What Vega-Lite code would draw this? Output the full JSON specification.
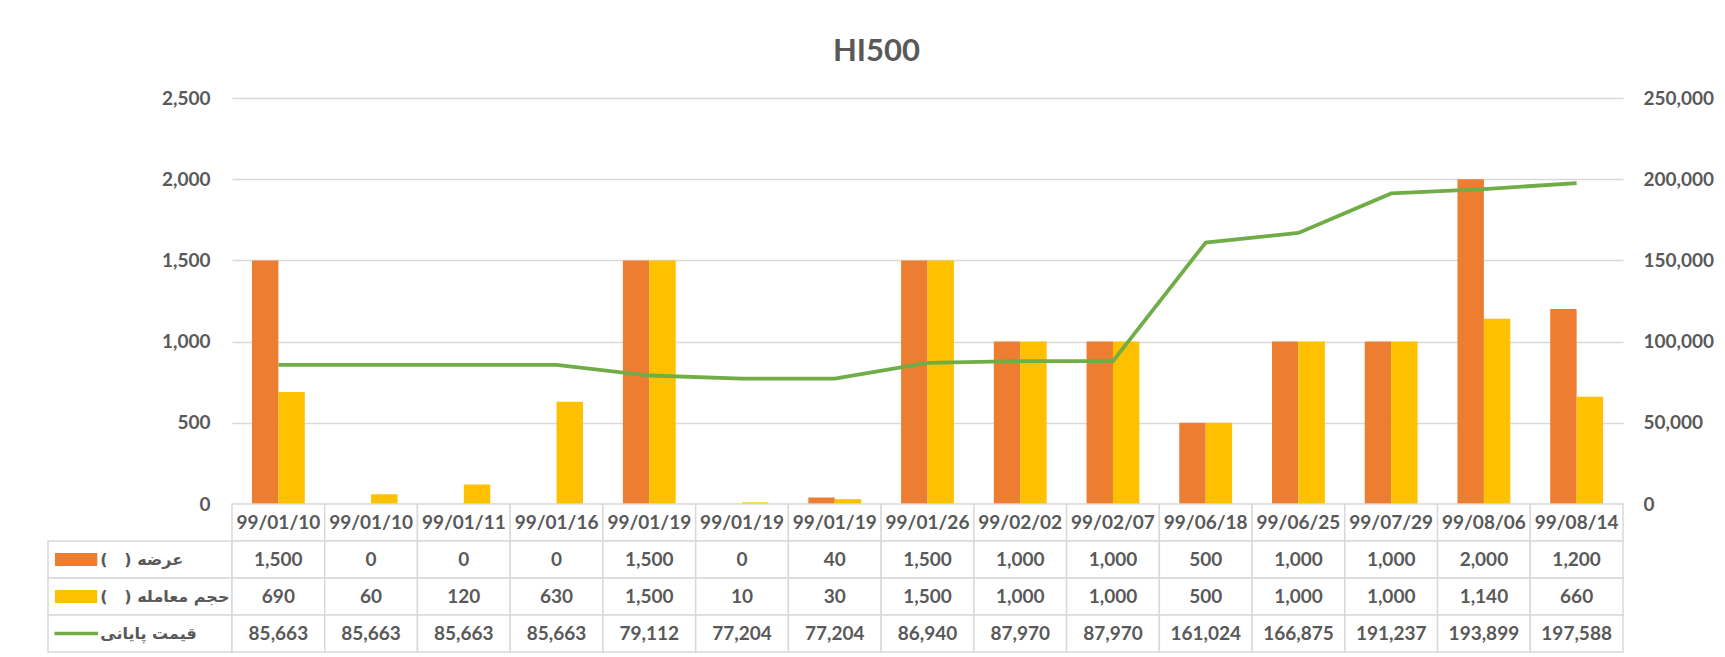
{
  "$schema": "https://vega.github.io/schema/vega-lite/v6.json",
  "background": "white",
  "padding": {"left": 47, "top": 36, "right": 14, "bottom": 4},
  "config": {
    "view": {"stroke": null},
    "font": "Lato",
    "axis": {"labelFont": "Lato", "labelFontWeight": "bold", "labelFontSize": 19, "labelColor": "#595959", "domain": false, "ticks": false, "title": null, "gridColor": "#d9d9d9", "gridWidth": 1.5}
  },
  "datasets": {
    "d": [
      {"i": 1, "date": "99/01/10", "offer": 1500, "volume": 690, "price": 85663},
      {"i": 2, "date": "99/01/10", "offer": 0, "volume": 60, "price": 85663},
      {"i": 3, "date": "99/01/11", "offer": 0, "volume": 120, "price": 85663},
      {"i": 4, "date": "99/01/16", "offer": 0, "volume": 630, "price": 85663},
      {"i": 5, "date": "99/01/19", "offer": 1500, "volume": 1500, "price": 79112},
      {"i": 6, "date": "99/01/19", "offer": 0, "volume": 10, "price": 77204},
      {"i": 7, "date": "99/01/19", "offer": 40, "volume": 30, "price": 77204},
      {"i": 8, "date": "99/01/26", "offer": 1500, "volume": 1500, "price": 86940},
      {"i": 9, "date": "99/02/02", "offer": 1000, "volume": 1000, "price": 87970},
      {"i": 10, "date": "99/02/07", "offer": 1000, "volume": 1000, "price": 87970},
      {"i": 11, "date": "99/06/18", "offer": 500, "volume": 500, "price": 161024},
      {"i": 12, "date": "99/06/25", "offer": 1000, "volume": 1000, "price": 166875},
      {"i": 13, "date": "99/07/29", "offer": 1000, "volume": 1000, "price": 191237},
      {"i": 14, "date": "99/08/06", "offer": 2000, "volume": 1140, "price": 193899},
      {"i": 15, "date": "99/08/14", "offer": 1200, "volume": 660, "price": 197588}
    ],
    "leg": [
      {"row": "offer", "name": "عرضه (\u00a0\u00a0\u00a0)‏"},
      {"row": "volume", "name": "حجم معامله (\u00a0\u00a0\u00a0)‏"},
      {"row": "price", "name": "قیمت پایانی"}
    ]
  },
  "columns": 2,
  "spacing": 0,
  "bounds": "flush",
  "align": "each",
  "concat": [
    {
      "width": 184, "height": 406,
      "data": {"values": [{}]},
      "mark": {"type": "text", "text": ""},
      "encoding": {}
    },
    {
      "width": 1391, "height": 406,
      "title": {"text": "HI500", "fontSize": 31, "font": "Lato", "fontWeight": "bold", "color": "#595959", "baseline": "alphabetic", "offset": -3, "dx": -51},
      "data": {"name": "d"},
      "layer": [
        {
          "transform": [{"fold": ["offer", "volume"], "as": ["series", "value"]}],
          "mark": {"type": "bar"},
          "encoding": {
            "x": {"field": "i", "type": "ordinal", "axis": null, "scale": {"paddingInner": 0.43, "paddingOuter": 0.215}},
            "xOffset": {"field": "series", "type": "nominal", "scale": {"domain": ["offer", "volume"], "paddingInner": 0, "paddingOuter": 0}},
            "y": {"field": "value", "type": "quantitative", "scale": {"domain": [0, 2500]}, "axis": {"values": [0, 500, 1000, 1500, 2000, 2500], "format": ",.0f", "labelPadding": 22}},
            "color": {"field": "series", "type": "nominal", "scale": {"domain": ["offer", "volume"], "range": ["#ED7D31", "#FFC000"]}, "legend": null}
          }
        },
        {
          "mark": {"type": "line", "color": "#70AD47", "strokeWidth": 3.8},
          "encoding": {
            "x": {"field": "i", "type": "ordinal", "axis": null},
            "y": {"field": "price", "type": "quantitative", "scale": {"domain": [0, 250000]}, "axis": {"orient": "right", "values": [0, 50000, 100000, 150000, 200000, 250000], "format": ",.0f", "grid": false, "labelPadding": 20}}
          }
        }
      ],
      "resolve": {"scale": {"y": "independent"}}
    },
    {
      "width": 184, "height": 148,
      "data": {"name": "leg"},
      "layer": [
        {
          "mark": {"type": "rect", "fill": "white", "stroke": "#d9d9d9", "strokeWidth": 1.5},
          "encoding": {
            "y": {"field": "row", "type": "nominal", "axis": null, "scale": {"domain": ["date", "offer", "volume", "price"], "paddingInner": 0, "paddingOuter": 0}},
            "x": {"datum": 0, "type": "quantitative", "axis": null, "scale": {"domain": [0, 1]}},
            "x2": {"datum": 1}
          }
        },
        {
          "transform": [{"filter": "datum.row === 'offer'"}],
          "mark": {"type": "rule", "color": "#ED7D31", "strokeWidth": 13},
          "encoding": {
            "y": {"field": "row", "type": "nominal"},
            "x": {"datum": 0.038, "type": "quantitative"},
            "x2": {"datum": 0.268}
          }
        },
        {
          "transform": [{"filter": "datum.row === 'volume'"}],
          "mark": {"type": "rule", "color": "#FFC000", "strokeWidth": 13},
          "encoding": {
            "y": {"field": "row", "type": "nominal"},
            "x": {"datum": 0.038, "type": "quantitative"},
            "x2": {"datum": 0.268}
          }
        },
        {
          "transform": [{"filter": "datum.row === 'price'"}],
          "mark": {"type": "rule", "color": "#70AD47", "strokeWidth": 3.5},
          "encoding": {
            "y": {"field": "row", "type": "nominal"},
            "x": {"datum": 0.035, "type": "quantitative"},
            "x2": {"datum": 0.272}
          }
        },
        {
          "mark": {"type": "text", "align": "left", "baseline": "middle", "font": "DejaVu Sans", "fontWeight": "bold", "fontSize": 16, "color": "#595959"},
          "encoding": {
            "y": {"field": "row", "type": "nominal"},
            "x": {"datum": 0.284, "type": "quantitative"},
            "text": {"field": "name"}
          }
        }
      ]
    },
    {
      "width": 1391, "height": 148,
      "data": {"name": "d"},
      "layer": [
        {
          "transform": [{"fold": ["date", "offer", "volume", "price"], "as": ["row", "v"]}],
          "mark": {"type": "rect", "fill": "white", "stroke": "#d9d9d9", "strokeWidth": 1.5},
          "encoding": {
            "x": {"field": "i", "type": "ordinal", "axis": null, "scale": {"paddingInner": 0, "paddingOuter": 0}},
            "y": {"field": "row", "type": "nominal", "axis": null, "scale": {"domain": ["date", "offer", "volume", "price"], "paddingInner": 0, "paddingOuter": 0}}
          }
        },
        {
          "mark": {"type": "text", "fontWeight": "bold", "fontSize": 19, "color": "#595959", "baseline": "middle"},
          "encoding": {
            "x": {"field": "i", "type": "ordinal"},
            "y": {"datum": "date", "type": "nominal"},
            "text": {"field": "date"}
          }
        },
        {
          "mark": {"type": "text", "fontWeight": "bold", "fontSize": 19, "color": "#595959", "baseline": "middle"},
          "encoding": {
            "x": {"field": "i", "type": "ordinal"},
            "y": {"datum": "offer", "type": "nominal"},
            "text": {"field": "offer", "type": "quantitative", "format": ","}
          }
        },
        {
          "mark": {"type": "text", "fontWeight": "bold", "fontSize": 19, "color": "#595959", "baseline": "middle"},
          "encoding": {
            "x": {"field": "i", "type": "ordinal"},
            "y": {"datum": "volume", "type": "nominal"},
            "text": {"field": "volume", "type": "quantitative", "format": ","}
          }
        },
        {
          "mark": {"type": "text", "fontWeight": "bold", "fontSize": 19, "color": "#595959", "baseline": "middle"},
          "encoding": {
            "x": {"field": "i", "type": "ordinal"},
            "y": {"datum": "price", "type": "nominal"},
            "text": {"field": "price", "type": "quantitative", "format": ","}
          }
        }
      ]
    }
  ]
}
